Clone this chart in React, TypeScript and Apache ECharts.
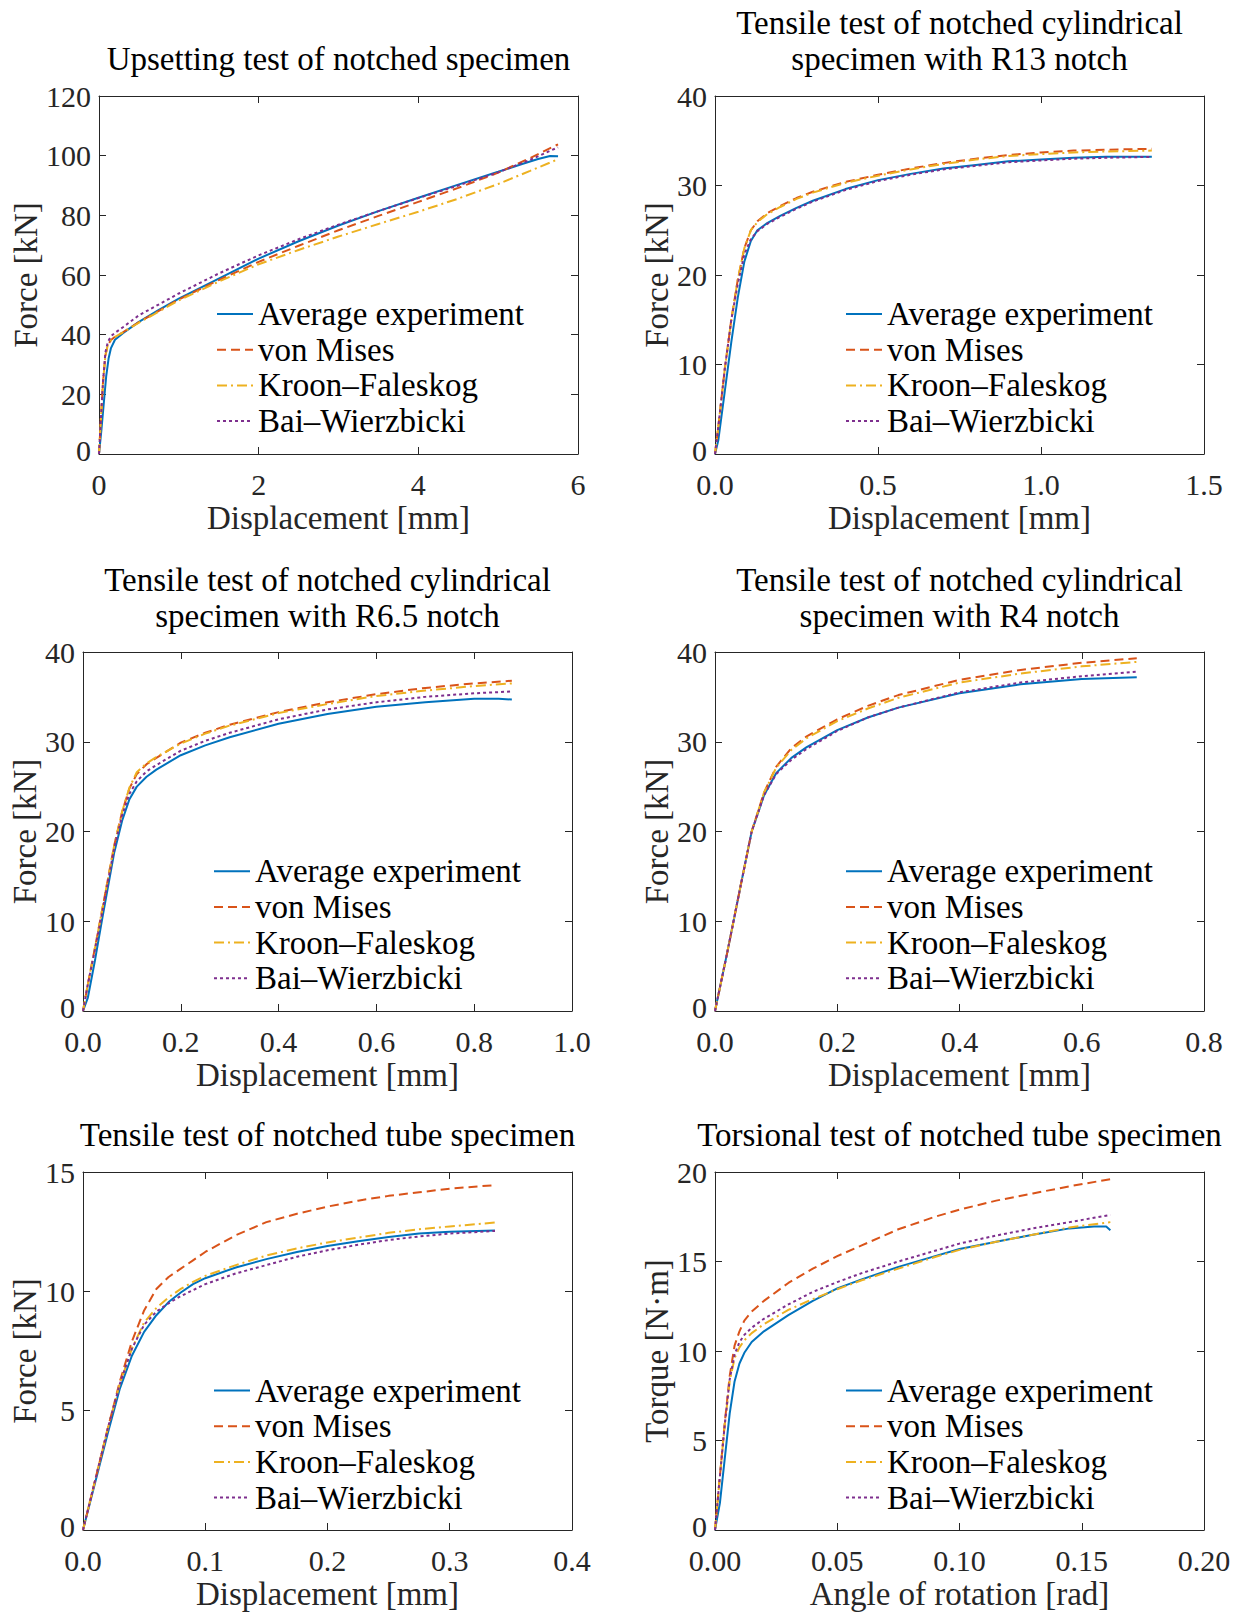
import React, { useEffect, useRef } from 'react';
import * as echarts from 'echarts';

// ---------- data ----------
const seriesNames = ['Average experiment', 'von Mises', 'Kroon–Faleskog', 'Bai–Wierzbicki'];

// Panel 1: Upsetting test of notched specimen
const p1Exp = [[0,0],[0.03,8],[0.06,17],[0.09,26],[0.12,32],[0.15,35.5],[0.2,38.3],[0.3,40.5],[0.5,44.3],[0.75,48.3],[1.0,52.1],[1.5,58.8],[2.0,65.5],[2.5,71.3],[3.0,76.6],[3.5,81.4],[4.0,85.9],[4.5,90.3],[5.0,94.6],[5.3,97.2],[5.5,98.9],[5.65,99.9],[5.75,99.8]];
const p1VM = [[0,0],[0.02,10],[0.05,24],[0.08,33],[0.11,36.5],[0.15,38.2],[0.2,39.3],[0.3,40.8],[0.5,44.2],[1.0,51.8],[1.5,58.3],[2.0,64.4],[2.5,69.8],[3.0,75.0],[3.5,79.8],[4.0,84.5],[4.5,89.2],[5.0,94.3],[5.4,99.2],[5.75,103.8]];
const p1KF = [[0,0],[0.02,10],[0.05,24],[0.08,33],[0.11,36.5],[0.15,38.2],[0.2,39.3],[0.3,40.8],[0.5,44.0],[1.0,51.5],[1.5,57.8],[2.0,63.6],[2.5,68.4],[3.0,72.9],[3.5,77.1],[4.0,81.2],[4.5,85.6],[5.0,90.5],[5.4,94.9],[5.75,98.8]];
const p1BW = [[0,0],[0.02,10],[0.05,24],[0.08,34],[0.11,37.5],[0.15,39.5],[0.2,40.6],[0.3,42.5],[0.5,46.5],[1.0,53.8],[1.5,60.5],[2.0,66.6],[2.5,72.0],[3.0,76.9],[3.5,81.4],[4.0,85.8],[4.5,90.0],[5.0,94.4],[5.4,98.6],[5.75,102.8]];

// Panel 2: R13 notch
const p2Exp = [[0,0],[0.01,1.5],[0.03,7],[0.05,12.5],[0.07,17.5],[0.09,21.5],[0.11,23.8],[0.13,25.0],[0.16,25.8],[0.2,26.6],[0.25,27.5],[0.3,28.3],[0.4,29.6],[0.5,30.6],[0.6,31.3],[0.7,31.9],[0.8,32.3],[0.9,32.7],[1.0,32.9],[1.1,33.1],[1.2,33.2],[1.34,33.2]];
const p2VM = [[0,0],[0.01,3],[0.03,9.5],[0.05,15],[0.07,19.5],[0.09,23],[0.11,25],[0.13,26],[0.16,26.9],[0.2,27.7],[0.25,28.6],[0.3,29.3],[0.4,30.4],[0.5,31.2],[0.6,31.9],[0.7,32.5],[0.8,33.0],[0.9,33.4],[1.0,33.7],[1.1,33.9],[1.2,34.0],[1.34,34.1]];
const p2KF = [[0,0],[0.01,3],[0.03,9.5],[0.05,15],[0.07,19.5],[0.09,23],[0.11,25],[0.13,25.9],[0.16,26.8],[0.2,27.6],[0.25,28.5],[0.3,29.2],[0.4,30.3],[0.5,31.1],[0.6,31.8],[0.7,32.4],[0.8,32.9],[0.9,33.3],[1.0,33.5],[1.1,33.7],[1.2,33.8],[1.34,33.9]];
const p2BW = [[0,0],[0.01,3],[0.03,9.5],[0.05,15],[0.07,19],[0.09,22.3],[0.11,24],[0.13,24.9],[0.16,25.7],[0.2,26.5],[0.25,27.4],[0.3,28.2],[0.4,29.5],[0.5,30.5],[0.6,31.2],[0.7,31.8],[0.8,32.2],[0.9,32.6],[1.0,32.8],[1.1,33.0],[1.2,33.1],[1.34,33.2]];

// Panel 3: R6.5 notch
const p3Exp = [[0,0],[0.01,1.5],[0.025,5.8],[0.04,10.5],[0.064,17.7],[0.08,21.2],[0.095,23.6],[0.11,25.0],[0.13,26.1],[0.15,26.9],[0.2,28.5],[0.25,29.6],[0.3,30.5],[0.4,32.0],[0.5,33.1],[0.6,33.9],[0.7,34.4],[0.8,34.8],[0.85,34.8],[0.877,34.7]];
const p3VM = [[0,0],[0.01,3],[0.025,7.2],[0.04,11.5],[0.064,18.5],[0.08,22.2],[0.095,24.8],[0.11,26.4],[0.13,27.5],[0.15,28.2],[0.2,29.9],[0.25,31.0],[0.3,31.9],[0.4,33.3],[0.5,34.4],[0.6,35.3],[0.7,36.0],[0.8,36.5],[0.877,36.8]];
const p3KF = [[0,0],[0.01,3],[0.025,7.2],[0.04,11.5],[0.064,18.5],[0.08,22.2],[0.095,24.9],[0.11,26.6],[0.13,27.6],[0.15,28.3],[0.2,29.8],[0.25,30.9],[0.3,31.8],[0.4,33.2],[0.5,34.2],[0.6,35.1],[0.7,35.7],[0.8,36.2],[0.877,36.5]];
const p3BW = [[0,0],[0.01,3],[0.025,7],[0.04,11.2],[0.064,18.2],[0.08,21.8],[0.095,24.2],[0.11,25.6],[0.13,26.7],[0.15,27.4],[0.2,29.0],[0.25,30.1],[0.3,31.0],[0.4,32.5],[0.5,33.6],[0.6,34.4],[0.7,35.0],[0.8,35.4],[0.877,35.6]];

// Panel 4: R4 notch
const p4Exp = [[0,0],[0.02,6.5],[0.04,13.3],[0.06,20],[0.08,24],[0.1,26.5],[0.125,28.2],[0.15,29.4],[0.2,31.3],[0.25,32.7],[0.3,33.8],[0.4,35.4],[0.5,36.4],[0.6,37.0],[0.69,37.2]];
const p4VM = [[0,0],[0.02,6.5],[0.04,13.3],[0.06,20],[0.08,24.3],[0.1,27.2],[0.125,29.3],[0.15,30.6],[0.2,32.5],[0.25,34.0],[0.3,35.2],[0.4,36.9],[0.5,38.0],[0.6,38.8],[0.69,39.3]];
const p4KF = [[0,0],[0.02,6.5],[0.04,13.3],[0.06,20],[0.08,24.3],[0.1,27.1],[0.125,29.1],[0.15,30.4],[0.2,32.3],[0.25,33.7],[0.3,34.9],[0.4,36.6],[0.5,37.6],[0.6,38.4],[0.69,38.9]];
const p4BW = [[0,0],[0.02,6.5],[0.04,13.3],[0.06,20],[0.08,24],[0.1,26.4],[0.125,28.0],[0.15,29.2],[0.2,31.2],[0.25,32.7],[0.3,33.8],[0.4,35.5],[0.5,36.6],[0.6,37.3],[0.69,37.8]];

// Panel 5: notched tube (tension)
const p5Exp = [[0,0],[0.01,2],[0.02,4],[0.03,5.9],[0.04,7.3],[0.05,8.3],[0.06,9.0],[0.07,9.55],[0.08,9.95],[0.09,10.3],[0.1,10.55],[0.125,11.0],[0.15,11.35],[0.175,11.65],[0.2,11.9],[0.225,12.1],[0.25,12.28],[0.275,12.42],[0.3,12.5],[0.337,12.55]];
const p5VM = [[0,0],[0.01,2.1],[0.02,4.2],[0.03,6.2],[0.04,7.9],[0.05,9.2],[0.06,10.1],[0.07,10.6],[0.08,10.95],[0.09,11.3],[0.1,11.65],[0.125,12.35],[0.15,12.9],[0.175,13.25],[0.2,13.55],[0.225,13.8],[0.25,14.0],[0.275,14.15],[0.3,14.3],[0.337,14.45]];
const p5KF = [[0,0],[0.01,2.1],[0.02,4.2],[0.03,6.1],[0.04,7.6],[0.05,8.7],[0.06,9.3],[0.07,9.75],[0.08,10.1],[0.09,10.4],[0.1,10.65],[0.125,11.1],[0.15,11.5],[0.175,11.8],[0.2,12.05],[0.225,12.25],[0.25,12.45],[0.275,12.6],[0.3,12.72],[0.337,12.88]];
const p5BW = [[0,0],[0.01,2.1],[0.02,4.2],[0.03,6.1],[0.04,7.6],[0.05,8.6],[0.06,9.15],[0.07,9.5],[0.08,9.8],[0.09,10.05],[0.1,10.3],[0.125,10.75],[0.15,11.1],[0.175,11.45],[0.2,11.72],[0.225,11.95],[0.25,12.15],[0.275,12.3],[0.3,12.42],[0.337,12.53]];

// Panel 6: torsion
const p6Exp = [[0,0],[0.002,1.5],[0.004,4],[0.006,6.5],[0.008,8.3],[0.01,9.3],[0.012,9.9],[0.015,10.5],[0.02,11.1],[0.03,12.0],[0.04,12.8],[0.05,13.5],[0.06,14.0],[0.075,14.7],[0.09,15.3],[0.1,15.7],[0.115,16.1],[0.13,16.5],[0.145,16.85],[0.155,16.95],[0.16,16.95],[0.1617,16.75]];
const p6VM = [[0,0],[0.002,3],[0.004,6],[0.006,8.6],[0.008,10.3],[0.01,11.1],[0.012,11.7],[0.015,12.2],[0.02,12.8],[0.03,13.8],[0.04,14.6],[0.05,15.3],[0.06,15.9],[0.075,16.8],[0.09,17.5],[0.1,17.9],[0.115,18.4],[0.13,18.8],[0.145,19.2],[0.1617,19.6]];
const p6KF = [[0,0],[0.002,3],[0.004,5.9],[0.006,8.3],[0.008,9.6],[0.01,10.2],[0.012,10.6],[0.015,11.0],[0.02,11.5],[0.03,12.3],[0.04,12.9],[0.05,13.45],[0.06,13.95],[0.075,14.6],[0.09,15.25],[0.1,15.65],[0.115,16.1],[0.13,16.5],[0.145,16.9],[0.1617,17.2]];
const p6BW = [[0,0],[0.002,3],[0.004,5.9],[0.006,8.4],[0.008,9.8],[0.01,10.5],[0.012,10.9],[0.015,11.3],[0.02,11.8],[0.03,12.6],[0.04,13.3],[0.05,13.85],[0.06,14.35],[0.075,15.0],[0.09,15.6],[0.1,16.0],[0.115,16.45],[0.13,16.85],[0.145,17.2],[0.1617,17.6]];

const panelData = [
  [p1Exp, p1VM, p1KF, p1BW],
  [p2Exp, p2VM, p2KF, p2BW],
  [p3Exp, p3VM, p3KF, p3BW],
  [p4Exp, p4VM, p4KF, p4BW],
  [p5Exp, p5VM, p5KF, p5BW],
  [p6Exp, p6VM, p6KF, p6BW],
];

const panelTitles = [
  ['Upsetting test of notched specimen'],
  ['Tensile test of notched cylindrical', 'specimen with R13 notch'],
  ['Tensile test of notched cylindrical', 'specimen with R6.5 notch'],
  ['Tensile test of notched cylindrical', 'specimen with R4 notch'],
  ['Tensile test of notched tube specimen'],
  ['Torsional test of notched tube specimen'],
];
const xNames = ['Displacement [mm]', 'Displacement [mm]', 'Displacement [mm]', 'Displacement [mm]', 'Displacement [mm]', 'Angle of rotation [rad]'];
const yNames = ['Force [kN]', 'Force [kN]', 'Force [kN]', 'Force [kN]', 'Force [kN]', 'Torque [N·m]'];
const xMaxs = [6, 1.5, 1.0, 0.8, 0.4, 0.2];
const xIntervals = [2, 0.5, 0.2, 0.2, 0.1, 0.05];
const xDecimals = [0, 1, 1, 1, 1, 2];
const yMaxs = [120, 40, 40, 40, 15, 20];
const yIntervals = [20, 10, 10, 10, 5, 5];

// ---------- layout / style ----------
const FONT = 'Liberation Serif';
const FS_TICK = 30;
const FS_WORD = 33;
const AXIS_COLOR = '#262626';
const colors = ['#0072BD', '#D95319', '#EDB120', '#7E2F8E'];
const dashes: any[] = ['solid', [9, 5], [10, 4, 2, 4], [3, 3]];

const layouts = [
  { left: 99, top: 96, width: 479, height: 358, yGap: 58, legL: 216, legC: 313.5, tY: [58.6] },
  { left: 715, top: 96, width: 489, height: 358, yGap: 42, legL: 845, legC: 313.5, tY: [22.6, 58.6] },
  { left: 83, top: 652, width: 489, height: 359, yGap: 42, legL: 213, legC: 870.7, tY: [580, 616] },
  { left: 715, top: 652, width: 489, height: 359, yGap: 42, legL: 845, legC: 870.7, tY: [580, 616] },
  { left: 83, top: 1172, width: 489, height: 358, yGap: 42, legL: 213, legC: 1390, tY: [1135] },
  { left: 715, top: 1172, width: 489, height: 358, yGap: 42, legL: 845, legC: 1390, tY: [1135] },
];

function buildOption() {
  const grid: any[] = [];
  const xAxis: any[] = [];
  const yAxis: any[] = [];
  const series: any[] = [];
  const legend: any[] = [];
  const graphic: any[] = [];

  const tickStyle = { show: true, inside: true, length: 7, lineStyle: { color: AXIS_COLOR, width: 1 } };
  const lineStyleAx = { show: true, onZero: false, lineStyle: { color: AXIS_COLOR, width: 1 } };
  const labelStyle = { color: AXIS_COLOR, fontFamily: FONT, fontSize: FS_TICK, lineHeight: 24 };
  const nameStyle = { color: AXIS_COLOR, fontFamily: FONT, fontSize: FS_WORD, lineHeight: 26 };

  layouts.forEach((L, i) => {
    grid.push({ left: L.left, top: L.top, width: L.width, height: L.height, show: false });
    const dec = xDecimals[i];
    xAxis.push({
      type: 'value', gridIndex: i, position: 'bottom', min: 0, max: xMaxs[i], interval: xIntervals[i],
      axisLine: lineStyleAx, axisTick: tickStyle, splitLine: { show: false },
      axisLabel: { ...labelStyle, margin: 18, formatter: (v: number) => v.toFixed(dec) },
      name: xNames[i], nameLocation: 'middle', nameGap: 51,
      nameTextStyle: nameStyle,
    });
    xAxis.push({
      type: 'value', gridIndex: i, position: 'top', min: 0, max: xMaxs[i], interval: xIntervals[i],
      axisLine: lineStyleAx, axisTick: tickStyle, splitLine: { show: false }, axisLabel: { show: false },
    });
    yAxis.push({
      type: 'value', gridIndex: i, position: 'left', min: 0, max: yMaxs[i], interval: yIntervals[i],
      axisLine: lineStyleAx, axisTick: tickStyle, splitLine: { show: false },
      axisLabel: {
        ...labelStyle, margin: 8,
        formatter: (v: number) => (v === 0 ? '{z|0}' : String(v)),
        rich: { z: { color: AXIS_COLOR, fontFamily: FONT, fontSize: FS_TICK, lineHeight: 24, padding: [0, 0, 8, 0] } },
      },
      name: yNames[i], nameLocation: 'middle', nameGap: L.yGap, nameRotate: 90,
      nameTextStyle: nameStyle,
    });
    yAxis.push({
      type: 'value', gridIndex: i, position: 'right', min: 0, max: yMaxs[i], interval: yIntervals[i],
      axisLine: lineStyleAx, axisTick: tickStyle, splitLine: { show: false }, axisLabel: { show: false },
    });

    panelData[i].forEach((d, k) => {
      series.push({
        type: 'line', name: seriesNames[k], xAxisIndex: 2 * i, yAxisIndex: 2 * i,
        data: d, symbol: 'none', showSymbol: false, smooth: false,
        lineStyle: { color: colors[k], width: 2, type: dashes[k] },
        itemStyle: { color: colors[k] },
        emphasis: { disabled: true },
      });
    });

    legend.push({
      data: seriesNames, orient: 'vertical', left: L.legL, top: L.legC - 16,
      itemWidth: 36, itemHeight: 14, itemGap: 2.7, padding: 0, selectedMode: false,
      itemStyle: { opacity: 0 },
      textStyle: { color: '#000', fontFamily: FONT, fontSize: FS_WORD, lineHeight: 32 },
    });

    const cx = L.left + L.width / 2;
    panelTitles[i].forEach((t, j) => {
      graphic.push({
        type: 'text', x: cx, y: L.tY[j],
        style: { text: t, fill: '#000', fontFamily: FONT, fontSize: FS_WORD, align: 'center', verticalAlign: 'middle' },
      });
    });
  });

  return {
    animation: false,
    backgroundColor: '#ffffff',
    textStyle: { fontFamily: FONT },
    grid, xAxis, yAxis, series, legend, graphic,
  };
}

export default function App() {
  const ref = useRef<HTMLDivElement>(null);
  useEffect(() => {
    if (!ref.current) return;
    const chart = echarts.init(ref.current, undefined, { renderer: 'svg' });
    chart.setOption(buildOption() as any);
    return () => chart.dispose();
  }, []);
  return (
    <div
      ref={ref}
      style={{ position: 'absolute', left: 0, top: 0, width: 1245, height: 1612, background: '#fff' }}
    />
  );
}
